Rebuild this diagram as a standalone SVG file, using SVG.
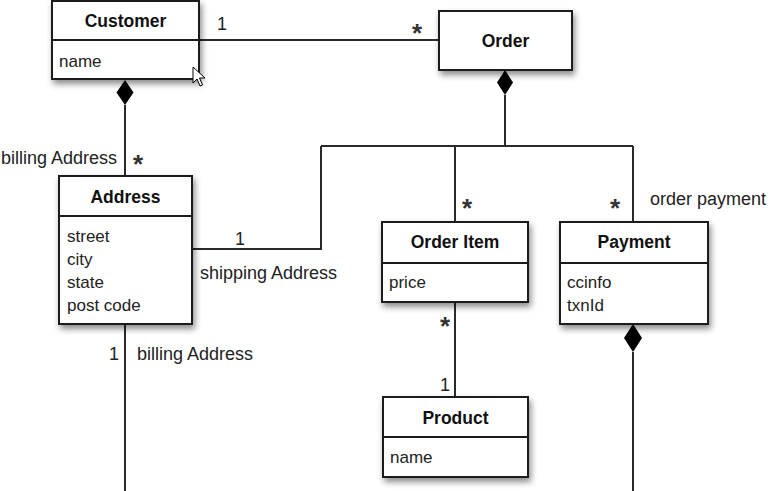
<svg xmlns="http://www.w3.org/2000/svg" width="772" height="491" viewBox="0 0 772 491">
<defs>
<filter id="sh" x="-20%" y="-20%" width="150%" height="150%">
<feDropShadow dx="2" dy="4" stdDeviation="3" flood-color="#000" flood-opacity="0.45"/>
</filter>
</defs>
<style>
.box{fill:#fff;stroke:#1a1a1a;stroke-width:2;filter:url(#sh)}
.div{stroke:#1a1a1a;stroke-width:2}
.t{font-family:"Liberation Sans",Arial,sans-serif;font-size:17.5px;font-weight:bold;fill:#111;text-anchor:middle}
.a{font-family:"Liberation Sans",Arial,sans-serif;font-size:17px;fill:#222}
.l{font-family:"Liberation Sans",Arial,sans-serif;font-size:18px;fill:#222}
.st{font-family:"Liberation Sans",Arial,sans-serif;font-size:26px;font-weight:bold;fill:#333;text-anchor:middle}
.c{fill:none;stroke:#2a2a2a;stroke-width:2}
.d{fill:#000;stroke:none}
</style>
<rect width="772" height="491" fill="#fff"/>
<g id="connectors">
<path class="c" d="M199,40 H439"/>
<path class="c" d="M125,105 V176"/>
<path class="c" d="M505,95 V146"/>
<path class="c" d="M321,146 H633"/>
<path class="c" d="M455,146 V222"/>
<path class="c" d="M633,146 V222"/>
<path class="c" d="M321,146 V249 H192"/>
<path class="c" d="M455,302 V397"/>
<path class="c" d="M125,324 V491"/>
<path class="c" d="M633,352 V491"/>
<polygon class="d" points="125,80 133.5,92.5 125,105 116.5,92.5"/>
<polygon class="d" points="505,70 513,82.5 505,95 497,82.5"/>
<polygon class="d" points="633,324 642,338 633,352 624,338"/>
<text class="l" x="217" y="30">1</text>
<text class="st" x="417" y="42">*</text>
<text class="l" x="1" y="164" font-size="17">billing Address</text>
<text class="st" x="138" y="173">*</text>
<text class="l" x="235" y="245">1</text>
<text class="l" x="200" y="279">shipping Address</text>
<text class="st" x="467" y="217">*</text>
<text class="st" x="615" y="217">*</text>
<text class="l" x="650" y="205">order payment</text>
<text class="st" x="445" y="335">*</text>
<text class="l" x="109" y="360">1</text>
<text class="l" x="137" y="360">billing Address</text>
<text class="l" x="440" y="391">1</text>
</g>
<g id="customer">
<rect class="box" x="52" y="1" width="147" height="78"/>
<line class="div" x1="52" y1="40" x2="199" y2="40"/>
<text class="t" x="125.5" y="27">Customer</text>
<text class="a" x="59" y="67">name</text>
</g>
<g id="order">
<rect class="box" x="439" y="11" width="133" height="59"/>
<text class="t" x="505.5" y="47">Order</text>
</g>
<g id="address">
<rect class="box" x="59" y="176" width="133" height="148"/>
<line class="div" x1="59" y1="216" x2="192" y2="216"/>
<text class="t" x="125.5" y="203">Address</text>
<text class="a" x="67" y="242">street</text>
<text class="a" x="67" y="265">city</text>
<text class="a" x="67" y="288">state</text>
<text class="a" x="67" y="311">post code</text>
</g>
<g id="orderitem">
<rect class="box" x="382" y="222" width="146" height="80"/>
<line class="div" x1="382" y1="263" x2="528" y2="263"/>
<text class="t" x="455" y="248">Order Item</text>
<text class="a" x="389" y="288">price</text>
</g>
<g id="payment">
<rect class="box" x="560" y="222" width="148" height="102"/>
<line class="div" x1="560" y1="263" x2="708" y2="263"/>
<text class="t" x="634" y="248">Payment</text>
<text class="a" x="567" y="288">ccinfo</text>
<text class="a" x="567" y="311">txnId</text>
</g>
<g id="product">
<rect class="box" x="383" y="397" width="145" height="80"/>
<line class="div" x1="383" y1="437" x2="528" y2="437"/>
<text class="t" x="455.5" y="424">Product</text>
<text class="a" x="390" y="463">name</text>
</g>
<g id="cursor">
<polygon points="193,67 193,83 197,79 200,86 202.5,85 199.5,78 205,78" fill="#fff" stroke="#000" stroke-width="1"/>
</g>
</svg>
